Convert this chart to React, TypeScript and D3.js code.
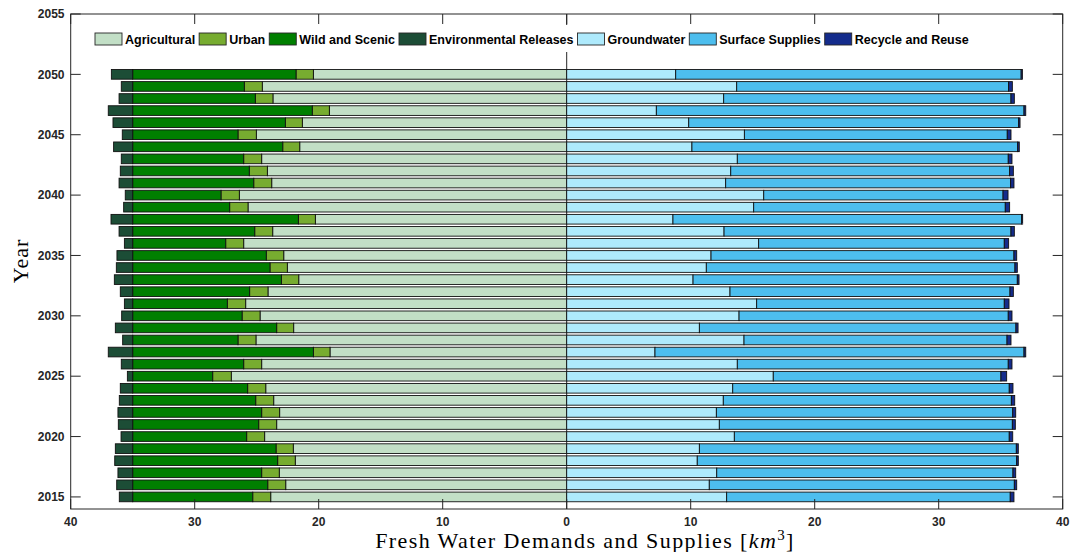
import React from 'react';
import * as d3 from 'd3';

const years = [2015, 2016, 2017, 2018, 2019, 2020, 2021, 2022, 2023, 2024, 2025, 2026, 2027, 2028, 2029, 2030, 2031, 2032, 2033, 2034, 2035, 2036, 2037, 2038, 2039, 2040, 2041, 2042, 2043, 2044, 2045, 2046, 2047, 2048, 2049, 2050];

// Demands (drawn to the left)
const agricultural = [23.87, 22.66, 23.18, 21.89, 22.05, 24.36, 23.39, 23.15, 23.63, 24.27, 27.05, 24.6, 19.09, 25.06, 22.02, 24.73, 25.89, 24.09, 21.61, 22.53, 22.82, 26.05, 23.71, 20.27, 25.7, 26.4, 23.79, 24.14, 24.6, 21.53, 25.03, 21.32, 19.14, 23.69, 24.55, 20.43];
const urban = [1.45, 1.45, 1.42, 1.42, 1.39, 1.45, 1.45, 1.45, 1.45, 1.46, 1.5, 1.45, 1.34, 1.45, 1.37, 1.45, 1.48, 1.48, 1.4, 1.4, 1.41, 1.45, 1.45, 1.37, 1.48, 1.48, 1.45, 1.46, 1.45, 1.37, 1.48, 1.37, 1.38, 1.42, 1.45, 1.4];
const wildScenic = [9.68, 10.89, 10.4, 11.69, 11.56, 9.19, 10.16, 10.4, 9.92, 9.27, 6.45, 8.95, 14.57, 8.49, 11.61, 8.82, 7.63, 9.43, 11.99, 11.07, 10.77, 7.5, 9.84, 13.36, 7.82, 7.12, 9.76, 9.4, 8.95, 12.1, 8.49, 12.31, 14.48, 9.89, 9.0, 13.17];
const envReleases = [1.08, 1.29, 1.19, 1.45, 1.4, 0.94, 1.16, 1.19, 1.08, 1.0, 0.43, 0.92, 1.97, 0.81, 1.4, 0.89, 0.67, 1.0, 1.48, 1.32, 1.27, 0.67, 1.1, 1.75, 0.73, 0.6, 1.1, 1.0, 0.92, 1.54, 0.84, 1.59, 1.97, 1.1, 0.92, 1.72];

// Supplies (drawn to the right)
const groundwater = [12.9, 11.5, 12.1, 10.53, 10.7, 13.52, 12.31, 12.07, 12.63, 13.39, 16.66, 13.76, 7.12, 14.3, 10.7, 13.9, 15.32, 13.17, 10.19, 11.26, 11.64, 15.48, 12.69, 8.57, 15.08, 15.89, 12.82, 13.23, 13.76, 10.1, 14.33, 9.84, 7.23, 12.66, 13.71, 8.79];
const surface = [22.87, 24.6, 23.89, 25.76, 25.56, 22.17, 23.63, 23.9, 23.23, 22.3, 18.36, 21.85, 29.76, 21.21, 25.53, 21.71, 19.97, 22.58, 26.15, 24.89, 24.43, 19.81, 23.14, 28.12, 20.29, 19.3, 22.98, 22.49, 21.85, 26.27, 21.2, 26.61, 29.65, 23.17, 21.93, 27.86];
const recycle = [0.3, 0.19, 0.22, 0.13, 0.16, 0.28, 0.24, 0.24, 0.27, 0.3, 0.46, 0.3, 0.14, 0.32, 0.17, 0.3, 0.38, 0.27, 0.14, 0.19, 0.22, 0.35, 0.27, 0.08, 0.35, 0.4, 0.27, 0.3, 0.3, 0.13, 0.3, 0.11, 0.14, 0.27, 0.3, 0.1];

const demandNames = ['Agricultural', 'Urban', 'Wild and Scenic', 'Environmental Releases'];
const supplyNames = ['Groundwater', 'Surface Supplies', 'Recycle and Reuse'];
const demandColors = ['#c2dfc6', '#77ac30', '#007f00', '#1c4d36'];
const supplyColors = ['#aeeafc', '#4dbeee', '#142c8c'];

const xTicks = [-40, -30, -20, -10, 0, 10, 20, 30, 40];
const yTicks = [2015, 2020, 2025, 2030, 2035, 2040, 2045, 2050, 2055];

const W = 1078;
const H = 552;
const AX = '#262626';
const LEGFONT = "bold 12.5px 'Liberation Sans', Arial, Helvetica, sans-serif";

function measure(text: string, font: string): number {
  const c = document.createElement('canvas');
  const ctx = c.getContext('2d');
  if (!ctx) return text.length * 7;
  ctx.font = font;
  return ctx.measureText(text).width;
}

export default function App() {
  const left = 70.7, right = 1062.7, top = 14, bottom = 509;
  const x = d3.scaleLinear().domain([-40, 40]).range([left, right]);
  const y = d3.scaleLinear().domain([2014, 2055]).range([bottom, top]);
  const barH = (y(2014) - y(2015)) * 0.8;

  const demandRows = years.map((yr, i) => ({ year: yr, a: agricultural[i], u: urban[i], w: wildScenic[i], e: envReleases[i] }));
  const supplyRows = years.map((yr, i) => ({ year: yr, g: groundwater[i], s: surface[i], r: recycle[i] }));
  const dStack = d3.stack<any>().keys(['a', 'u', 'w', 'e'])(demandRows);
  const sStack = d3.stack<any>().keys(['g', 's', 'r'])(supplyRows);

  const legendItems = [
    ...demandNames.map((n, i) => ({ name: n, color: demandColors[i] })),
    ...supplyNames.map((n, i) => ({ name: n, color: supplyColors[i] })),
  ];
  let cx = 95;
  const legendLayout = legendItems.map((it) => {
    const sx = cx;
    const tx = sx + 30;
    const tw = measure(it.name, LEGFONT);
    cx = tx + tw + 4;
    return { ...it, sx, tx };
  });

  const fontTick = { fontFamily: "'Liberation Sans', Arial, Helvetica, sans-serif", fontWeight: 700, fontSize: 12, fill: AX } as const;

  return (
    <svg width={W} height={H} style={{ position: 'absolute', left: 0, top: 0, background: '#fff' }}>
      <rect x={0} y={0} width={W} height={H} fill="#fff" />
      {/* zero line */}
      <line x1={x(0)} x2={x(0)} y1={top} y2={bottom} stroke={AX} strokeWidth={1} />
      {/* demand bars */}
      {dStack.map((layer, k) => (
        <g key={'d' + k} fill={demandColors[k]} stroke="#111" strokeWidth={0.9}>
          {layer.map((d, i) => (
            <rect key={i} x={x(-d[1])} width={x(-d[0]) - x(-d[1])} y={y(years[i]) - barH / 2} height={barH} />
          ))}
        </g>
      ))}
      {/* supply bars */}
      {sStack.map((layer, k) => (
        <g key={'s' + k} fill={supplyColors[k]} stroke="#111" strokeWidth={0.9}>
          {layer.map((d, i) => (
            <rect key={i} x={x(d[0])} width={x(d[1]) - x(d[0])} y={y(years[i]) - barH / 2} height={barH} />
          ))}
        </g>
      ))}
      {/* axes box */}
      <rect x={left} y={top} width={right - left} height={bottom - top} fill="none" stroke={AX} strokeWidth={1} />
      {xTicks.map((t) => (
        <g key={'xt' + t}>
          <line x1={x(t)} x2={x(t)} y1={bottom} y2={bottom - 10} stroke={AX} />
          <line x1={x(t)} x2={x(t)} y1={top} y2={top + 10} stroke={AX} />
          <text x={x(t)} y={526} textAnchor="middle" {...fontTick}>{Math.abs(t)}</text>
        </g>
      ))}
      {yTicks.map((t) => (
        <g key={'yt' + t}>
          <line x1={left} x2={left + 10} y1={y(t)} y2={y(t)} stroke={AX} />
          <line x1={right} x2={right - 10} y1={y(t)} y2={y(t)} stroke={AX} />
          <text x={64.5} y={y(t) + 4.3} textAnchor="end" {...fontTick}>{t}</text>
        </g>
      ))}
      {/* legend */}
      <rect x={88} y={25} width={cx - 88 + 4} height={27} fill="#fff" />
      {legendLayout.map((it) => (
        <g key={it.name}>
          <rect x={it.sx} y={33} width={27} height={12} fill={it.color} stroke={AX} strokeWidth={0.9} />
          <text x={it.tx} y={44} fontFamily="'Liberation Sans', Arial, Helvetica, sans-serif" fontWeight={700} fontSize={12.5} fill="#000">{it.name}</text>
        </g>
      ))}
      {/* axis labels */}
      <text x={585} y={548} textAnchor="middle" fontFamily="'Liberation Serif', 'Times New Roman', serif" fontSize={22} letterSpacing={1.4} fill="#000">
        Fresh Water Demands and Supplies [<tspan fontStyle="italic">km</tspan><tspan fontSize={15} dy={-8}>3</tspan><tspan dy={8}>]</tspan>
      </text>
      <text transform={`translate(28,261) rotate(-90)`} textAnchor="middle" fontFamily="'Liberation Serif', 'Times New Roman', serif" fontSize={22} letterSpacing={1} fill="#000">Year</text>
    </svg>
  );
}
